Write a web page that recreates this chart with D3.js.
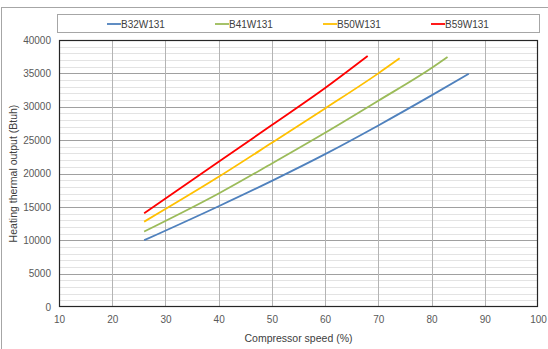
<!DOCTYPE html>
<html><head><meta charset="utf-8">
<script src="https://cdn.jsdelivr.net/npm/d3@7"></script>
<style>html,body{margin:0;padding:0;background:#fff;}svg{display:block;font-family:"Liberation Sans",Arial,sans-serif;}</style>
</head><body>
<svg id="c" width="548" height="349"></svg>
<script>
const seriesNames = ["B32W131", "B41W131", "B50W131", "B59W131"];
const seriesColors = ["#4F81BD", "#9BBB59", "#FFC000", "#FF0000"];
const speedB32 = [26, 40, 50, 60, 70, 80, 87];
const outB32 = [10000, 15100, 18900, 22900, 27200, 31700, 34950];
const speedB41 = [26, 40, 50, 60, 70, 80, 83];
const outB41 = [11300, 17000, 21500, 26100, 30900, 35800, 37450];
const speedB50 = [26, 40, 50, 60, 70, 74];
const outB50 = [12780, 19500, 24600, 29750, 35000, 37250];
const speedB59 = [26, 40, 50, 60, 68];
const outB59 = [14040, 21750, 27250, 32800, 37600];
const xTicks = [10, 20, 30, 40, 50, 60, 70, 80, 90, 100];
const yTicks = [0, 5000, 10000, 15000, 20000, 25000, 30000, 35000, 40000];
const xTitle = "Compressor speed (%)";
const yTitle = "Heating thermal output (Btuh)";

const series = [
  {name: seriesNames[0], color: seriesColors[0], xs: speedB32, ys: outB32},
  {name: seriesNames[1], color: seriesColors[1], xs: speedB41, ys: outB41},
  {name: seriesNames[2], color: seriesColors[2], xs: speedB50, ys: outB50},
  {name: seriesNames[3], color: seriesColors[3], xs: speedB59, ys: outB59}
];

const svg = d3.select("#c");
const L = 59, R = 538, T = 40, B = 307;
const x = d3.scaleLinear().domain([10, 100]).range([L, R]);
const y = d3.scaleLinear().domain([0, 40000]).range([B, T]);

// outer chart border
svg.append("rect").attr("x", 1.5).attr("y", 7.5).attr("width", 560).attr("height", 360)
  .attr("fill", "#fff").attr("stroke", "#a6a6a6").attr("stroke-width", 1);

// minor horizontal grid
const minor = d3.range(1000, 40000, 1000).filter(v => v % 5000 !== 0);
svg.append("g").selectAll("line").data(minor).join("line")
  .attr("x1", L).attr("x2", R)
  .attr("y1", d => Math.round(y(d)) + 0.5).attr("y2", d => Math.round(y(d)) + 0.5)
  .attr("stroke", "#e3e3e3").attr("stroke-width", 1);
// major horizontal grid
svg.append("g").selectAll("line").data(yTicks.slice(1, -1)).join("line")
  .attr("x1", L).attr("x2", R)
  .attr("y1", d => Math.round(y(d)) + 0.5).attr("y2", d => Math.round(y(d)) + 0.5)
  .attr("stroke", "#a0a0a0").attr("stroke-width", 1);
// vertical grid
svg.append("g").selectAll("line").data(xTicks.slice(1, -1)).join("line")
  .attr("y1", T).attr("y2", B)
  .attr("x1", d => Math.round(x(d)) + 0.5).attr("x2", d => Math.round(x(d)) + 0.5)
  .attr("stroke", "#b4b4b4").attr("stroke-width", 1);

// lines
const line = d3.line().x(d => x(d[0])).y(d => y(d[1])).curve(d3.curveMonotoneX);
series.forEach(s => {
  svg.append("path").datum(s.xs.map((v, i) => [v, s.ys[i]]))
    .attr("d", line).attr("fill", "none").attr("stroke", s.color)
    .attr("stroke-width", 1.8).attr("stroke-linejoin", "round");
});

// plot border
svg.append("rect").attr("x", L + 0.5).attr("y", T + 0.5)
  .attr("width", R - L - 1).attr("height", B - T - 1)
  .attr("fill", "none").attr("stroke", "#262626").attr("stroke-width", 1.2);

// axes
const yAxis = d3.axisLeft(y).tickValues(yTicks).tickSize(0).tickPadding(8).tickFormat(d3.format("d"));
const gy = svg.append("g").attr("transform", `translate(${L},0)`).call(yAxis);
gy.select(".domain").remove();
gy.selectAll("text").attr("font-size", 10).attr("fill", "#595959")
  .attr("font-family", "Liberation Sans, Arial, sans-serif");

const xAxis = d3.axisBottom(x).tickValues(xTicks).tickSize(0).tickPadding(9);
const gx = svg.append("g").attr("transform", `translate(0,${B})`).call(xAxis);
gx.select(".domain").remove();
gx.selectAll("text").attr("font-size", 10).attr("fill", "#595959")
  .attr("font-family", "Liberation Sans, Arial, sans-serif");

svg.append("text").attr("x", (L + R) / 2).attr("y", 342).attr("text-anchor", "middle")
  .attr("font-size", 10.5).attr("fill", "#404040").text(xTitle);
svg.append("text").attr("transform", `translate(17,${(T + B) / 2}) rotate(-90)`)
  .attr("text-anchor", "middle").attr("font-size", 10.5).attr("fill", "#404040").text(yTitle);

// legend
svg.append("rect").attr("x", 57.5).attr("y", 14.5).attr("width", 482).attr("height", 18)
  .attr("fill", "#fff").attr("stroke", "#a6a6a6").attr("stroke-width", 1);
const legX = [107, 215, 323, 431];
series.forEach((s, i) => {
  const g = svg.append("g").attr("transform", `translate(${legX[i]},24)`);
  g.append("line").attr("x1", 0).attr("x2", 14).attr("y1", 0).attr("y2", 0)
    .attr("stroke", s.color).attr("stroke-width", 1.8);
  g.append("text").attr("x", 14).attr("y", 3.5).attr("font-size", 10)
    .attr("fill", "#404040").text(s.name);
});
</script>
</body></html>
